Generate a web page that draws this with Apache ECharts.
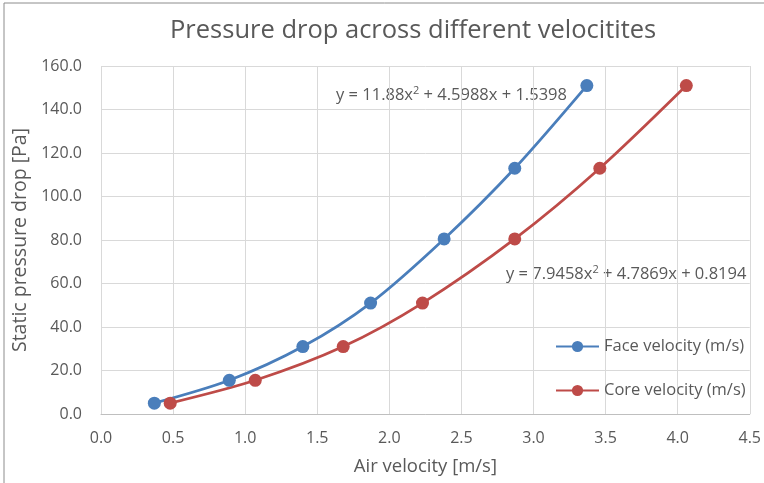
<!DOCTYPE html>
<html><head><meta charset="utf-8">
<script src="https://cdn.jsdelivr.net/npm/echarts@6/dist/echarts.min.js"></script>
<style>html,body{margin:0;padding:0;background:#fff}#c{width:764px;height:483px}</style>
</head><body><div id="c"></div>
<script>
var faceX = [0.37, 0.89, 1.40, 1.87, 2.38, 2.87, 3.37];
var coreX = [0.48, 1.07, 1.68, 2.23, 2.87, 3.46, 4.06];
var pressure = [5.0, 15.5, 31.0, 51.0, 80.5, 113.0, 151.0];
var seriesNames = ['Face velocity (m/s)', 'Core velocity (m/s)'];
var eqFace = 'y = 11.88x{s|2} + 4.5988x + 1.5398';
var eqCore = 'y = 7.9458x{s|2} + 4.7869x + 0.8194';
var titleText = 'Pressure drop across different velocitites';
var xName = 'Air velocity [m/s]';
var yName = 'Static pressure drop [Pa]';

function pairs(xs, ys){ return xs.map(function(x,i){ return [x, ys[i]]; }); }
var font = '"Open Sans", "Noto Sans", sans-serif';
var txt = '#595959';
var chart = echarts.init(document.getElementById('c'));
chart.setOption({
  animation: false,
  title: { text: titleText, left: 165, top: 13, textStyle: { fontFamily: font, fontSize: 25.5, fontWeight: 'normal', color: txt } },
  grid: { left: 101, right: 8, top: 66, bottom: 69 },
  legend: {
    orient: 'vertical', left: 550, top: 333, itemGap: 27, itemWidth: 43, itemHeight: 14,
    textStyle: { fontFamily: font, fontSize: 16.5, color: txt, lineHeight: 17 },
    data: seriesNames
  },
  xAxis: {
    type: 'value', min: 0, max: 4.5, interval: 0.5,
    name: xName, nameLocation: 'middle', nameGap: 43,
    nameTextStyle: { fontFamily: font, fontSize: 18.5, color: txt },
    axisLine: { show: true, lineStyle: { color: '#bfbfbf' } },
    axisTick: { show: false },
    axisLabel: { formatter: function(v){ return v.toFixed(1); }, fontFamily: font, fontSize: 16, color: txt, margin: 16 },
    splitLine: { show: true, lineStyle: { color: '#d9d9d9' } }
  },
  yAxis: {
    type: 'value', min: 0, max: 160, interval: 20,
    name: yName, nameLocation: 'middle', nameGap: 70,
    nameTextStyle: { fontFamily: font, fontSize: 19.5, color: txt },
    axisLine: { show: false }, axisTick: { show: false },
    axisLabel: { formatter: function(v){ return v.toFixed(1); }, fontFamily: font, fontSize: 16, color: txt, margin: 19 },
    splitLine: { show: true, lineStyle: { color: '#d9d9d9' } }
  },
  graphic: [
    { type: 'rect', shape: { x: 4, y: 3, width: 800, height: 520 }, style: { fill: 'none', stroke: '#8c8c8c', lineWidth: 1 }, z: -10 },
    { type: 'text', left: 336, top: 85, style: { text: eqFace, fontFamily: font, fontSize: 16.5, fill: txt, rich: { s: { fontFamily: font, fontSize: 11, verticalAlign: 'top', padding: [0,0,9,0], fill: txt } } } },
    { type: 'text', left: 506, top: 264, style: { text: eqCore, fontFamily: font, fontSize: 16.5, fill: txt, rich: { s: { fontFamily: font, fontSize: 11, verticalAlign: 'top', padding: [0,0,9,0], fill: txt } } } }
  ],
  series: [
    { name: seriesNames[0], type: 'line', smooth: 0.3, data: pairs(faceX, pressure), symbol: 'circle', symbolSize: 13,
      itemStyle: { color: '#4a7ebb' }, lineStyle: { width: 2.75, color: '#4a7ebb' } },
    { name: seriesNames[1], type: 'line', smooth: 0.3, data: pairs(coreX, pressure), symbol: 'circle', symbolSize: 13,
      itemStyle: { color: '#be4b48' }, lineStyle: { width: 2.75, color: '#be4b48' } }
  ]
});
</script></body></html>
